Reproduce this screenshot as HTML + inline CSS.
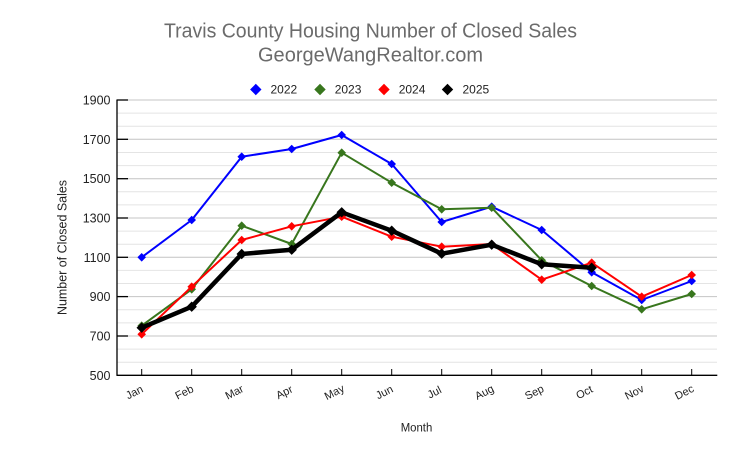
<!DOCTYPE html>
<html>
<head>
<meta charset="utf-8">
<style>
  html, body { margin: 0; padding: 0; background: #ffffff; }
  svg { display: block; }
  text { font-family: "Liberation Sans", Arial, sans-serif; }
</style>
</head>
<body>
<svg width="740" height="458" viewBox="0 0 740 458" xmlns="http://www.w3.org/2000/svg">
  <rect x="0" y="0" width="740" height="458" fill="#ffffff"/>

  <!-- Title -->
  <text x="370.5" y="37.7" font-size="20" fill="#6b6b6b" text-anchor="middle" textLength="413" lengthAdjust="spacingAndGlyphs">Travis County Housing Number of Closed Sales</text>
  <text x="370.5" y="61.7" font-size="20" fill="#6b6b6b" text-anchor="middle" textLength="225" lengthAdjust="spacingAndGlyphs">GeorgeWangRealtor.com</text>

  <!-- Legend -->
  <g font-size="12" fill="#222">
    <polygon points="255.8,83.8 261.5,89.5 255.8,95.2 250.1,89.5" fill="#0000ff"/>
    <text x="270.5" y="93.3">2022</text>
    <polygon points="320,83.8 325.7,89.5 320,95.2 314.3,89.5" fill="#38761d"/>
    <text x="334.7" y="93.3">2023</text>
    <polygon points="384,83.8 389.7,89.5 384,95.2 378.3,89.5" fill="#ff0000"/>
    <text x="398.7" y="93.3">2024</text>
    <polygon points="447.5,83.8 453.2,89.5 447.5,95.2 441.8,89.5" fill="#000000"/>
    <text x="462.5" y="93.3">2025</text>
  </g>

  <!-- Minor gridlines -->
  <g stroke="#e4e4e4" stroke-width="1">
    <line x1="117" y1="362.2" x2="717" y2="362.2"/>
    <line x1="117" y1="349.1" x2="717" y2="349.1"/>
    <line x1="117" y1="322.9" x2="717" y2="322.9"/>
    <line x1="117" y1="309.8" x2="717" y2="309.8"/>
    <line x1="117" y1="283.5" x2="717" y2="283.5"/>
    <line x1="117" y1="270.4" x2="717" y2="270.4"/>
    <line x1="117" y1="244.2" x2="717" y2="244.2"/>
    <line x1="117" y1="231.1" x2="717" y2="231.1"/>
    <line x1="117" y1="204.9" x2="717" y2="204.9"/>
    <line x1="117" y1="191.8" x2="717" y2="191.8"/>
    <line x1="117" y1="165.6" x2="717" y2="165.6"/>
    <line x1="117" y1="152.5" x2="717" y2="152.5"/>
    <line x1="117" y1="126.2" x2="717" y2="126.2"/>
    <line x1="117" y1="113.1" x2="717" y2="113.1"/>
  </g>
  <!-- Major gridlines -->
  <g stroke="#c4c4c4" stroke-width="1">
    <line x1="117" y1="336" x2="717" y2="336"/>
    <line x1="117" y1="296.6" x2="717" y2="296.6"/>
    <line x1="117" y1="257.3" x2="717" y2="257.3"/>
    <line x1="117" y1="218" x2="717" y2="218"/>
    <line x1="117" y1="178.7" x2="717" y2="178.7"/>
    <line x1="117" y1="139.3" x2="717" y2="139.3"/>
    <line x1="117" y1="100" x2="717" y2="100"/>
  </g>

  <!-- Axes -->
  <g stroke="#000" stroke-width="1.3">
    <line x1="117" y1="99.5" x2="117" y2="375.5"/>
    <line x1="116.5" y1="375.3" x2="717.3" y2="375.3"/>
    <!-- y ticks -->
    <line x1="117" y1="336" x2="128" y2="336"/>
    <line x1="117" y1="296.6" x2="128" y2="296.6"/>
    <line x1="117" y1="257.3" x2="128" y2="257.3"/>
    <line x1="117" y1="218" x2="128" y2="218"/>
    <line x1="117" y1="178.7" x2="128" y2="178.7"/>
    <line x1="117" y1="139.3" x2="128" y2="139.3"/>
    <line x1="117" y1="100" x2="128" y2="100"/>
  </g>
  <g stroke="#000" stroke-width="1">
    <line x1="141.7" y1="369" x2="141.7" y2="375"/>
    <line x1="191.7" y1="369" x2="191.7" y2="375"/>
    <line x1="241.7" y1="369" x2="241.7" y2="375"/>
    <line x1="291.7" y1="369" x2="291.7" y2="375"/>
    <line x1="341.7" y1="369" x2="341.7" y2="375"/>
    <line x1="391.7" y1="369" x2="391.7" y2="375"/>
    <line x1="441.7" y1="369" x2="441.7" y2="375"/>
    <line x1="491.7" y1="369" x2="491.7" y2="375"/>
    <line x1="541.7" y1="369" x2="541.7" y2="375"/>
    <line x1="591.7" y1="369" x2="591.7" y2="375"/>
    <line x1="641.7" y1="369" x2="641.7" y2="375"/>
    <line x1="691.7" y1="369" x2="691.7" y2="375"/>
  </g>

  <!-- Y tick labels -->
  <g font-size="12.5" fill="#222" text-anchor="end">
    <text x="110.5" y="379.8">500</text>
    <text x="110.5" y="340.5">700</text>
    <text x="110.5" y="301.1">900</text>
    <text x="110.5" y="261.8">1100</text>
    <text x="110.5" y="222.5">1300</text>
    <text x="110.5" y="183.2">1500</text>
    <text x="110.5" y="143.8">1700</text>
    <text x="110.5" y="104.5">1900</text>
  </g>

  <!-- Y axis title -->
  <text transform="translate(66.5,247.5) rotate(-90)" font-size="12.5" fill="#222" text-anchor="middle" textLength="135" lengthAdjust="spacingAndGlyphs">Number of Closed Sales</text>

  <!-- X tick labels -->
  <g font-size="11" fill="#222" text-anchor="middle">
    <text transform="translate(136,395.5) rotate(-27)">Jan</text>
    <text transform="translate(186,395.5) rotate(-27)">Feb</text>
    <text transform="translate(236,395.5) rotate(-27)">Mar</text>
    <text transform="translate(286,395.5) rotate(-27)">Apr</text>
    <text transform="translate(336,395.5) rotate(-27)">May</text>
    <text transform="translate(386,395.5) rotate(-27)">Jun</text>
    <text transform="translate(436,395.5) rotate(-27)">Jul</text>
    <text transform="translate(486,395.5) rotate(-27)">Aug</text>
    <text transform="translate(536,395.5) rotate(-27)">Sep</text>
    <text transform="translate(586,395.5) rotate(-27)">Oct</text>
    <text transform="translate(636,395.5) rotate(-27)">Nov</text>
    <text transform="translate(686,395.5) rotate(-27)">Dec</text>
  </g>

  <!-- X axis title -->
  <text x="416.5" y="431.5" font-size="11.5" fill="#222" text-anchor="middle" textLength="31.6" lengthAdjust="spacingAndGlyphs">Month</text>

  <defs>
    <polygon id="d" points="0,-4.3 4.3,0 0,4.3 -4.3,0"/>
    <polygon id="dk" points="0,-5.2 5.2,0 0,5.2 -5.2,0"/>
  </defs>

  <!-- 2022 blue -->
  <polyline fill="none" stroke="#0000ff" stroke-width="2" stroke-linejoin="round"
    points="141.7,257.3 191.7,220 241.7,156.7 291.7,149 341.7,135 391.7,164 441.7,222 491.7,206.7 541.7,230 591.7,272.3 641.7,300 691.7,281"/>
  <g fill="#0000ff">
    <use href="#d" x="141.7" y="257.3"/><use href="#d" x="191.7" y="220"/><use href="#d" x="241.7" y="156.7"/>
    <use href="#d" x="291.7" y="149"/><use href="#d" x="341.7" y="135"/><use href="#d" x="391.7" y="164"/>
    <use href="#d" x="441.7" y="222"/><use href="#d" x="491.7" y="206.7"/><use href="#d" x="541.7" y="230"/>
    <use href="#d" x="591.7" y="272.3"/><use href="#d" x="641.7" y="300"/><use href="#d" x="691.7" y="281"/>
  </g>

  <!-- 2023 green -->
  <polyline fill="none" stroke="#38761d" stroke-width="2" stroke-linejoin="round"
    points="141.7,325.7 191.7,289.3 241.7,225.7 291.7,244 341.7,152.7 391.7,182.7 441.7,209.3 491.7,207.7 541.7,260.3 591.7,286 641.7,309.3 691.7,294"/>
  <g fill="#38761d">
    <use href="#d" x="141.7" y="325.7"/><use href="#d" x="191.7" y="289.3"/><use href="#d" x="241.7" y="225.7"/>
    <use href="#d" x="291.7" y="244"/><use href="#d" x="341.7" y="152.7"/><use href="#d" x="391.7" y="182.7"/>
    <use href="#d" x="441.7" y="209.3"/><use href="#d" x="491.7" y="207.7"/><use href="#d" x="541.7" y="260.3"/>
    <use href="#d" x="591.7" y="286"/><use href="#d" x="641.7" y="309.3"/><use href="#d" x="691.7" y="294"/>
  </g>

  <!-- 2024 red -->
  <polyline fill="none" stroke="#ff0000" stroke-width="2" stroke-linejoin="round"
    points="141.7,334.3 191.7,286.7 241.7,240 291.7,226.3 341.7,216.7 391.7,236.7 441.7,246.7 491.7,244 541.7,279.7 591.7,262.7 641.7,296.7 691.7,275"/>
  <g fill="#ff0000">
    <use href="#d" x="141.7" y="334.3"/><use href="#d" x="191.7" y="286.7"/><use href="#d" x="241.7" y="240"/>
    <use href="#d" x="291.7" y="226.3"/><use href="#d" x="341.7" y="216.7"/><use href="#d" x="391.7" y="236.7"/>
    <use href="#d" x="441.7" y="246.7"/><use href="#d" x="491.7" y="244"/><use href="#d" x="541.7" y="279.7"/>
    <use href="#d" x="591.7" y="262.7"/><use href="#d" x="641.7" y="296.7"/><use href="#d" x="691.7" y="275"/>
  </g>

  <!-- 2025 black -->
  <polyline fill="none" stroke="#000000" stroke-width="4.5" stroke-linejoin="round"
    points="141.7,327.7 191.7,306.7 241.7,254 291.7,249.7 341.7,212.3 391.7,230.7 441.7,253.7 491.7,244.7 541.7,264.3 591.7,267.7"/>
  <g fill="#000000">
    <use href="#dk" x="141.7" y="327.7"/><use href="#dk" x="191.7" y="306.7"/><use href="#dk" x="241.7" y="254"/>
    <use href="#dk" x="291.7" y="249.7"/><use href="#dk" x="341.7" y="212.3"/><use href="#dk" x="391.7" y="230.7"/>
    <use href="#dk" x="441.7" y="253.7"/><use href="#dk" x="491.7" y="244.7"/><use href="#dk" x="541.7" y="264.3"/>
    <use href="#dk" x="591.7" y="267.7"/>
  </g>
</svg>
</body>
</html>
